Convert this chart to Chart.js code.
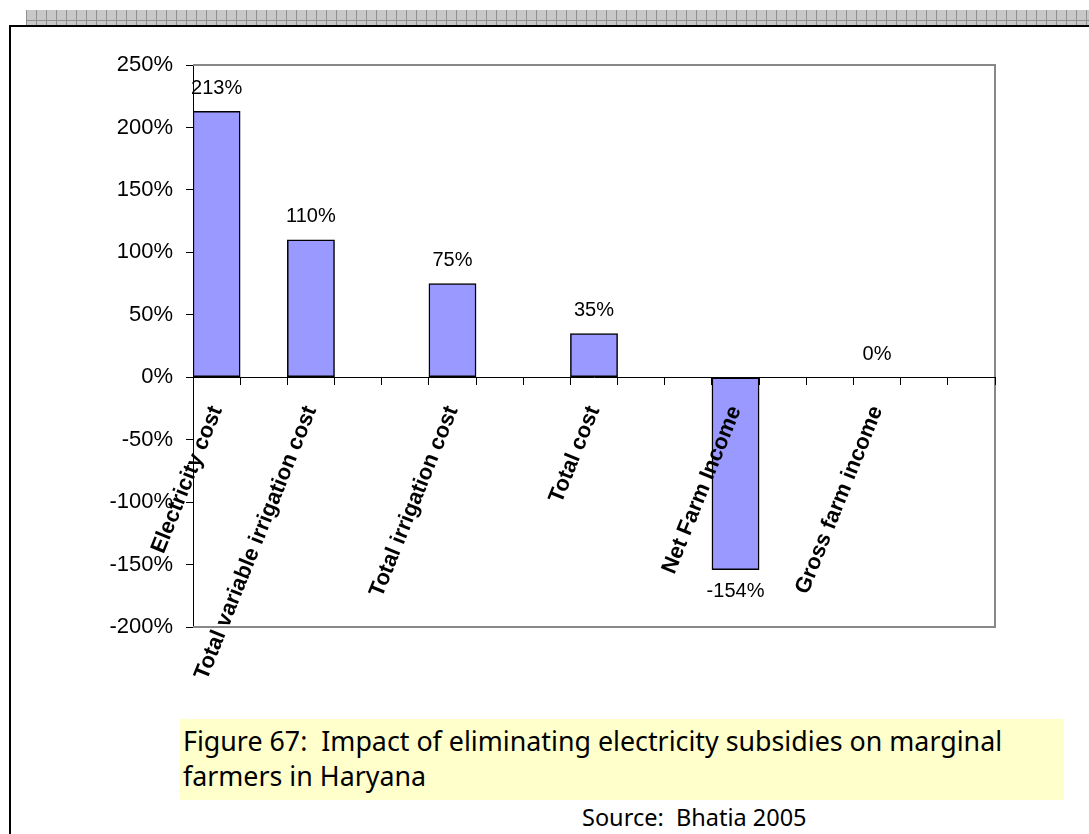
<!DOCTYPE html>
<html>
<head>
<meta charset="utf-8">
<script src="https://cdn.jsdelivr.net/npm/chart.js@4/dist/chart.umd.min.js"></script>
<style>
  html, body { margin: 0; padding: 0; background: #fff; }
  body { width: 1089px; height: 834px; position: relative; overflow: hidden; }
  #strip { position: absolute; left: 26px; top: 10px; width: 1063px; height: 15px;
    background-color: #c8c8c8;
    background-image:
      linear-gradient(180deg, transparent 0 10px, #909090 10px 11px, transparent 11px),
      repeating-linear-gradient(90deg, #909090 0 1px, transparent 1px 10px);
  }
  #frame { position: absolute; left: 9px; top: 25px; width: 1200px; height: 900px;
    border: 2px solid #000; box-sizing: border-box; }
  #caption { position: absolute; left: 180px; top: 719px; width: 884px; height: 81px;
    background: #ffffcc; font-family: "Comic Sans MS", "Noto Sans", sans-serif;
    font-size: 26.8px; line-height: 35px; color: #000; padding: 4px 0 0 3px; box-sizing: border-box;
    white-space: nowrap; }
  #source { position: absolute; left: 582px; top: 802px; font-family: "Comic Sans MS", "Noto Sans", sans-serif;
    font-size: 23.5px; line-height: 30px; color: #000; white-space: nowrap; }
  #c { position: absolute; left: 0; top: 0; }
</style>
</head>
<body>
<div id="strip"></div>
<div id="frame"></div>
<div id="caption">Figure 67:&nbsp; Impact of eliminating electricity subsidies on marginal<br>farmers in Haryana</div>
<div id="source">Source:&nbsp; Bhatia 2005</div>
<canvas id="c" width="1089" height="834"></canvas>
<script>
// Category slots (blank slots are empty rows in the source sheet)
const categories = [
  'Electricity cost', '', 'Total variable irrigation cost', '', '',
  'Total irrigation cost', '', '', 'Total cost', '', '',
  'Net Farm Income', '', '', 'Gross farm income', '', ''
];
// Percentage change values
const values = [213, null, 110, null, null, 75, null, null, 35, null, null, -154, null, null, 0, null, null];
// Y axis range / tick labels
const yMin = -200, yMax = 250, yStep = 50;

const plotFrame = {
  id: 'plotFrame',
  beforeDatasetsDraw(chart) {
    const a = chart.chartArea, ctx = chart.ctx;
    ctx.save();
    ctx.strokeStyle = '#888888';
    ctx.lineWidth = 2;
    ctx.beginPath();
    ctx.moveTo(a.left, a.top);
    ctx.lineTo(a.right, a.top);
    ctx.lineTo(a.right, a.bottom);
    ctx.lineTo(a.left, a.bottom);
    ctx.stroke();
    ctx.restore();
  }
};

const valueLabels = {
  id: 'valueLabels',
  afterDatasetsDraw(chart) {
    const ctx = chart.ctx;
    const meta = chart.getDatasetMeta(0);
    ctx.save();
    ctx.font = '20px "Liberation Sans", Arial, sans-serif';
    ctx.fillStyle = '#000';
    ctx.textAlign = 'center';
    ctx.textBaseline = 'middle';
    meta.data.forEach((el, i) => {
      const v = values[i];
      if (v === null || v === undefined) return;
      const y = v < 0 ? el.y + 22 : el.y - 23;
      ctx.fillText(v + '%', el.x, y);
    });
    ctx.restore();
  }
};

new Chart(document.getElementById('c'), {
  type: 'bar',
  data: {
    labels: categories,
    datasets: [{
      data: values,
      backgroundColor: '#9999ff',
      borderColor: '#000000',
      borderWidth: 1.5,
      borderSkipped: false,
      barPercentage: 1,
      categoryPercentage: 1
    }]
  },
  options: {
    responsive: false,
    devicePixelRatio: 1,
    animation: false,
    layout: { padding: { left: 100, top: 65, right: 94, bottom: 207 } },
    plugins: { legend: { display: false }, tooltip: { enabled: false } },
    scales: {
      x: {
        position: { y: 0 },
        offset: true,
        grid: { display: true, drawOnChartArea: false, drawTicks: true, tickLength: 7, color: '#000', offset: true, z: 1 },
        border: { display: true, color: '#000', width: 1, z: 1 },
        ticks: {
          z: 1,
          autoSkip: false, maxRotation: 68, minRotation: 68, padding: 18,
          color: '#000',
          font: { family: '"Liberation Sans", Arial, sans-serif', size: 22, weight: 'bold' }
        }
      },
      y: {
        min: yMin, max: yMax,
        afterFit(scale) { scale.width = 93; },
        grid: { display: true, drawOnChartArea: false, drawTicks: true, tickLength: 7, color: '#000' },
        border: { display: true, color: '#000', width: 1 },
        ticks: {
          stepSize: yStep, padding: 13, color: '#000',
          font: { family: '"Liberation Sans", Arial, sans-serif', size: 22 },
          callback: v => v + '%'
        }
      }
    }
  },
  plugins: [plotFrame, valueLabels]
});
</script>
</body>
</html>
